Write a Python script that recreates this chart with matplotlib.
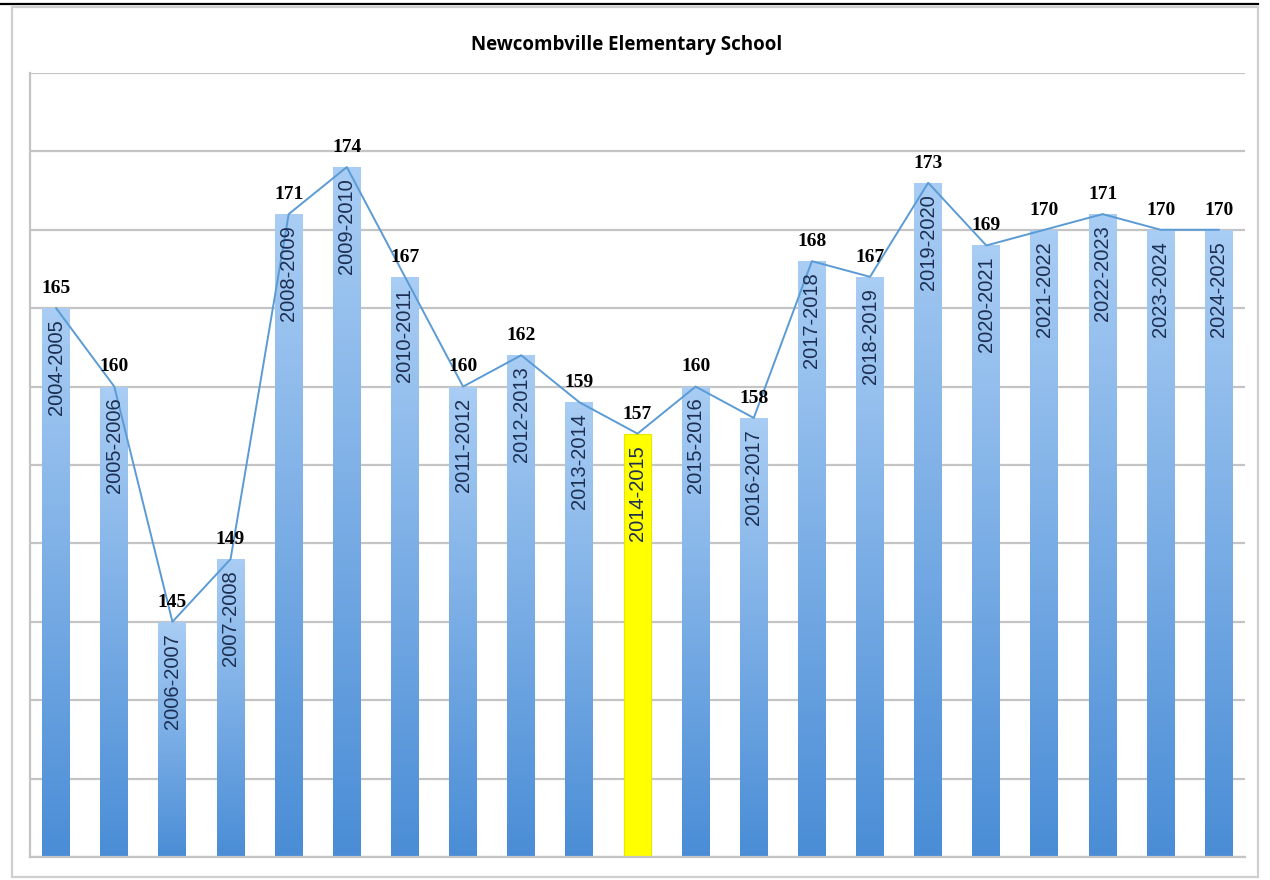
import numpy as np
import matplotlib.pyplot as plt
from matplotlib.patches import Rectangle
from matplotlib.lines import Line2D
from matplotlib.colors import LinearSegmentedColormap

# enrollment per school year
years = ['2004-2005', '2005-2006', '2006-2007', '2007-2008', '2008-2009',
         '2009-2010', '2010-2011', '2011-2012', '2012-2013', '2013-2014',
         '2014-2015', '2015-2016', '2016-2017', '2017-2018', '2018-2019',
         '2019-2020', '2020-2021', '2021-2022', '2022-2023', '2023-2024',
         '2024-2025']
students = [165, 160, 145, 149, 171, 174, 167, 160, 162, 159,
            157, 160, 158, 168, 167, 173, 169, 170, 171, 170, 170]
highlight = '2014-2015'

y_min, y_max = 130, 180

fig = plt.figure(figsize=(12.7, 8.8), dpi=100)
ax = fig.add_axes([30 / 1270, 23 / 880, 1215 / 1270, 784 / 880])

# outer chart frame and the page rule above it
fig.patches.append(Rectangle((12 / 1270, 3 / 880), 1246 / 1270, 870 / 880,
                             transform=fig.transFigure, fill=False,
                             edgecolor='#cfcfcf', linewidth=1.6))
fig.lines.append(Line2D([0, 1258 / 1270], [876 / 880, 876 / 880],
                        transform=fig.transFigure, color='black', linewidth=1.6))

x = np.arange(len(years))
bars = ax.bar(x, [v - y_min for v in students], bottom=y_min, width=0.48,
              color='none', edgecolor='none', zorder=2)

grad = LinearSegmentedColormap.from_list('bar', ['#4a8dd6', '#a9cdf4'])
g = np.linspace(0, 1, 256).reshape(-1, 1)
for bar, yr in zip(bars, years):
    x0, w = bar.get_x(), bar.get_width()
    top = bar.get_y() + bar.get_height()
    if yr == highlight:
        ax.add_patch(Rectangle((x0, y_min), w, top - y_min, facecolor='#ffff00',
                               edgecolor='#e6e600', linewidth=0.8, zorder=2))
        continue
    im = ax.imshow(g, cmap=grad, aspect='auto', origin='lower',
                   extent=(x0, x0 + w, y_min, top), zorder=2)
    im.set_clip_path(bar)

ax.plot(x, students, color='#5b9bd5', linewidth=1.4, zorder=3)

for xi, v, yr in zip(x, students, years):
    ax.annotate(str(v), (xi, v), xytext=(0, 8), textcoords='offset points',
                ha='center', va='bottom', fontsize=14, fontweight='bold',
                family='Liberation Serif', color='black', zorder=4)
    ax.annotate(yr, (xi, v), xytext=(0, -8), textcoords='offset points',
                ha='center', va='top', rotation=90, fontsize=14.5,
                family='Liberation Sans', color='#1c2f52', zorder=4)

ax.set_xlim(-0.45, len(years) - 0.55)
ax.set_ylim(y_min, y_max)
ax.set_yticks(np.arange(y_min, y_max + 1, 5))
ax.set_xticks([])
ax.tick_params(left=False, labelleft=False)
ax.grid(axis='y', color='#c4c4c4', linewidth=1.6, zorder=0)
ax.set_axisbelow(True)
for side in ['top', 'right']:
    ax.spines[side].set_visible(False)
for side in ['left', 'bottom']:
    ax.spines[side].set_color('#c4c4c4')
    ax.spines[side].set_linewidth(1.6)

fig.text(627 / 1270, 1 - 45 / 880, 'Newcombville Elementary School',
         ha='center', va='center', fontsize=13.5, fontweight='bold',
         family='Open Sans')

fig.savefig('out.png', dpi=100)
